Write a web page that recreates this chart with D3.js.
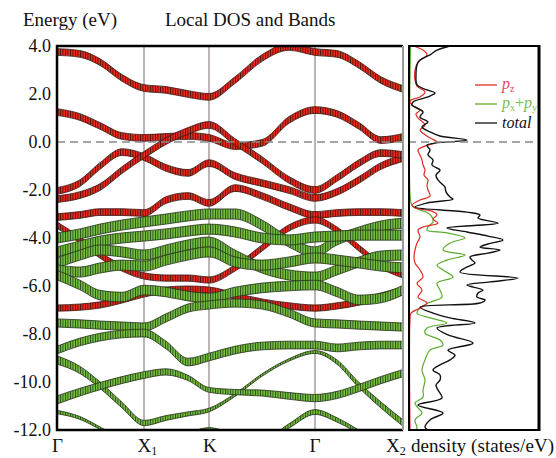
<!DOCTYPE html>
<html>
<head>
<meta charset="utf-8">
<title>Local DOS and Bands</title>
<script src="https://d3js.org/d3.v7.min.js"></script>
<style>
  body { margin: 0; background: #fff; }
  svg text { font-family: "Liberation Serif", "Times New Roman", Times, Tinos, "DejaVu Serif", "Noto Serif", FreeSerif, serif; fill: #111; }
</style>
</head>
<body>
<script>
// k-path (relative path length) and labels
const kTicks = [0, 87, 152, 258, 346];
const kLabels = ["Γ", "X", "K", "Γ", "X"];
const kSubs = ["", "1", "", "", "2"];
const kSamples = [0, 23, 43, 65, 87, 109, 131, 152, 178, 205, 232, 258, 280, 302, 324, 346];
const energyTicks = [4, 2, 0, -2, -4, -6, -8, -10, -12];

// bands with mostly p_z character (eV at kSamples)
const redBands = [
  [3.75, 3.67, 3.33, 2.67, 2.25, 2.17, 2.00, 1.88, 2.58, 3.50, 3.96, 3.75, 3.67, 3.21, 2.58, 2.21],
  [1.25, 1.04, 0.67, 0.25, 0.17, 0.21, 0.25, 0.17, -0.17, -0.04, 0.92, 1.33, 1.17, 0.67, 0.08, 0.21],
  [-2.04, -1.71, -1.00, -0.42, -0.63, -1.08, -1.29, -0.88, -1.42, -1.71, -2.00, -2.33, -2.08, -1.58, -1.00, -0.67],
  [-2.38, -2.21, -1.88, -1.17, -0.54, 0.04, 0.46, 0.71, 0.00, -0.75, -1.58, -2.00, -1.50, -0.88, -0.46, -0.54],
  [-3.13, -3.04, -2.92, -2.92, -2.96, -2.42, -2.25, -2.54, -1.92, -2.25, -2.71, -3.04, -2.96, -2.92, -2.92, -2.96],
  [-3.46, -4.08, -4.71, -5.25, -5.58, -5.67, -5.67, -5.75, -5.25, -4.42, -3.58, -3.25, -3.67, -4.42, -5.13, -5.54],
  [-6.92, -6.88, -6.79, -6.58, -6.33, -6.17, -6.13, -6.17, -6.42, -6.67, -6.83, -6.92, -6.83, -6.67, -6.42, -6.17]
];
const redWeights = [0.28, 0.28, 0.28, 0.28, 0.28, 0.26, 0.26];

// bands with mostly p_x+p_y character
const greenBands = [
  [-4.00, -3.83, -3.63, -3.46, -3.33, -3.21, -3.08, -3.00, -3.00, -3.46, -4.17, -4.58, -4.08, -3.75, -3.50, -3.38],
  [-4.58, -4.33, -4.13, -4.00, -3.92, -3.83, -3.71, -3.63, -3.75, -4.00, -4.08, -3.96, -3.92, -3.88, -3.88, -3.88],
  [-5.04, -4.71, -4.50, -4.58, -4.71, -4.50, -4.29, -4.17, -4.71, -5.25, -5.54, -5.63, -5.33, -5.00, -4.75, -4.71],
  [-5.33, -5.42, -5.25, -5.13, -5.17, -4.92, -4.71, -4.58, -5.00, -5.13, -5.00, -4.83, -4.92, -5.04, -5.17, -5.25],
  [-5.54, -5.96, -6.38, -6.46, -6.17, -6.25, -6.42, -6.50, -6.25, -6.08, -6.00, -5.96, -6.25, -6.58, -6.50, -6.17],
  [-7.54, -7.58, -7.63, -7.67, -7.71, -7.33, -6.92, -6.79, -6.71, -6.79, -7.13, -7.54, -7.58, -7.63, -7.67, -7.71],
  [-8.67, -8.33, -8.13, -8.00, -7.96, -8.46, -9.17, -8.96, -8.67, -8.50, -8.46, -8.46, -8.58, -8.50, -8.46, -8.46],
  [-9.08, -9.50, -10.13, -10.96, -11.71, -11.50, -11.33, -11.17, -10.54, -9.71, -9.08, -8.75, -9.17, -10.13, -10.96, -11.71],
  [-10.75, -10.42, -10.17, -9.92, -9.71, -9.58, -9.83, -10.33, -10.42, -10.46, -10.58, -10.67, -10.54, -10.25, -9.92, -9.63],
  [-11.25, -11.50, -11.92, -12.42, -12.75, -12.50, -12.17, -11.96, -12.25, -12.50, -11.83, -11.25, -11.58, -12.08, -12.63, -12.92]
];
// orbital weight (band thickness, eV); a list gives it per k-sample
const greenWeights = [0.42, 0.42, 0.42, 0.42, 0.40, 0.34, 0.32,
  [0.34, 0.30, 0.27, 0.24, 0.22, 0.20, 0.17, 0.15, 0.12, 0.10, 0.10, 0.12, 0.18, 0.22, 0.25, 0.27],
  [0.34, 0.32, 0.30, 0.29, 0.28, 0.26, 0.22, 0.20, 0.22, 0.25, 0.28, 0.30, 0.30, 0.30, 0.30, 0.30],
  [0.14, 0.12, 0.10, 0.10, 0.10, 0.10, 0.10, 0.12, 0.12, 0.14, 0.18, 0.20, 0.18, 0.15, 0.12, 0.10]];

// density of states (energy, states/eV)
const totalE = [4.00, 3.83, 3.63, 3.42, 3.21, 2.79, 2.38, 2.17, 2.04, 1.88, 1.67, 1.54, 1.25, 1.04, 0.83, 0.63, 0.42, 0.25, 0.08, -0.13, -0.33, -0.54, -0.75, -0.96, -1.17, -1.38, -1.58, -1.75, -1.88, -2.08, -2.29, -2.38, -2.54, -2.71, -2.92, -3.04, -3.17, -3.38, -3.58, -3.75, -3.92, -4.08, -4.25, -4.38, -4.50, -4.63, -4.79, -4.92, -5.04, -5.25, -5.42, -5.67, -5.83, -5.96, -6.17, -6.29, -6.46, -6.58, -6.71, -6.88, -7.13, -7.33, -7.54, -7.75, -8.04, -8.38, -8.67, -8.88, -9.08, -9.29, -9.50, -9.71, -9.92, -10.13, -10.33, -10.67, -10.96, -11.29, -11.58, -11.88, -12.00];
const totalDos = [4.0, 2.7, 2.0, 1.0, 0.7, 0.6, 0.7, 1.7, 2.5, 1.8, 0.3, 0.2, 1.3, 1.0, 1.8, 1.2, 2.0, 3.0, 5.7, 1.7, 2.0, 1.8, 2.3, 2.2, 3.0, 2.6, 2.8, 3.2, 3.5, 3.6, 4.0, 4.3, 1.7, 0.5, 5.7, 7.0, 6.8, 8.8, 3.7, 5.7, 7.8, 9.3, 7.8, 7.0, 9.0, 7.8, 6.0, 6.2, 6.5, 5.5, 5.0, 10.8, 8.0, 5.7, 7.3, 6.8, 6.7, 7.5, 7.0, 1.0, 2.3, 4.0, 6.5, 2.7, 3.8, 6.3, 3.8, 4.5, 4.0, 3.0, 2.3, 3.0, 3.0, 2.6, 2.8, 3.2, 0.8, 3.3, 2.0, 1.5, 1.8];
const pzE = [4.00, 3.83, 3.63, 3.33, 3.00, 2.58, 2.33, 2.08, 1.88, 1.71, 1.54, 1.33, 1.17, 1.00, 0.71, 0.50, 0.33, 0.17, 0.00, -0.17, -0.33, -0.54, -0.75, -0.96, -1.17, -1.38, -1.58, -1.79, -2.00, -2.25, -2.42, -2.63, -2.75, -2.88, -3.04, -3.21, -3.38, -3.54, -3.67, -3.96, -4.21, -4.50, -4.79, -5.04, -5.33, -5.63, -5.88, -6.17, -6.46, -6.71, -6.92, -7.13, -7.42, -12.00];
const pzDos = [0.3, 1.3, 1.7, 0.8, 0.5, 0.5, 0.7, 1.5, 1.0, 0.0, 0.2, 1.0, 0.6, 0.8, 1.5, 1.0, 1.4, 2.0, 2.7, 1.5, 0.8, 1.0, 1.2, 1.3, 1.5, 1.4, 1.8, 1.7, 1.8, 2.0, 1.0, 0.2, 0.5, 2.2, 2.7, 2.3, 2.8, 1.3, 0.8, 1.0, 0.7, 0.5, 0.4, 0.5, 1.0, 1.3, 0.7, 1.2, 0.8, 1.7, 1.0, 0.1, 0.0, 0.0];
const pxyE = [4.00, -2.42, -2.63, -2.83, -2.96, -3.13, -3.33, -3.54, -3.67, -3.79, -4.00, -4.21, -4.50, -4.71, -4.92, -5.13, -5.33, -5.63, -5.88, -6.17, -6.46, -6.71, -6.92, -7.13, -7.33, -7.54, -7.75, -7.96, -8.25, -8.46, -8.67, -9.08, -9.50, -9.92, -10.33, -10.63, -10.88, -11.08, -11.29, -11.58, -11.88, -12.00];
const pxyDos = [0.05, 0.05, 0.2, 1.0, 1.8, 2.2, 2.3, 1.8, 1.7, 3.7, 5.5, 4.0, 3.3, 5.5, 3.7, 2.7, 3.3, 4.3, 2.7, 3.0, 3.2, 1.8, 1.0, 0.7, 2.0, 3.7, 1.7, 1.5, 3.0, 3.3, 2.0, 1.5, 1.2, 1.5, 1.3, 1.3, 0.5, 0.8, 1.2, 0.5, 0.7, 0.6];

const width = 556, height = 458;
const bandLeft = 57, bandRight = 403, dosLeft = 409, dosRight = 539;
const plotTop = 46, plotBottom = 430;

const svg = d3.select("body").append("svg")
  .attr("width", width)
  .attr("height", height);

const x = d3.scaleLinear().domain([0, 346]).range([bandLeft, bandRight]);
const y = d3.scaleLinear().domain([-12, 4]).range([plotBottom, plotTop]);
const xDos = d3.scaleLinear().domain([0, 13]).range([410, 540]);

const defs = svg.append("defs");
defs.append("clipPath").attr("id", "bandClip")
  .append("rect").attr("x", bandLeft).attr("y", plotTop)
  .attr("width", bandRight - bandLeft).attr("height", plotBottom - plotTop);
defs.append("clipPath").attr("id", "dosClip")
  .append("rect").attr("x", dosLeft).attr("y", plotTop)
  .attr("width", dosRight - dosLeft).attr("height", plotBottom - plotTop);

// vertical hatching like the stacked fat-band markers
function hatch(id, fill, dark) {
  const p = defs.append("pattern").attr("id", id)
    .attr("patternUnits", "userSpaceOnUse")
    .attr("width", 2.5).attr("height", 6);
  p.append("rect").attr("width", 2.5).attr("height", 6).attr("fill", fill);
  p.append("rect").attr("width", 0.9).attr("height", 6).attr("fill", dark);
}
hatch("hatchRed", "#ee2a1e", "#4a120c");
hatch("hatchGreen", "#74c040", "#2e4a1a");

// high symmetry lines
svg.append("g").selectAll("line").data(kTicks.slice(1, 4)).join("line")
  .attr("x1", d => x(d)).attr("x2", d => x(d))
  .attr("y1", plotTop).attr("y2", plotBottom)
  .attr("stroke", "#7b6b6b").attr("stroke-width", 1);

const bandG = svg.append("g").attr("clip-path", "url(#bandClip)");

function drawBands(bands, weights, pat, edge) {
  bands.forEach(function (b, j) {
    const wt = weights[j];
    const w = i => Array.isArray(wt) ? wt[i] : wt;
    const area = d3.area()
      .x((d, i) => x(kSamples[i]))
      .y0((d, i) => y(d - w(i) / 2))
      .y1((d, i) => y(d + w(i) / 2))
      .curve(d3.curveMonotoneX);
    bandG.append("path")
      .attr("d", area(b))
      .attr("fill", "url(#" + pat + ")")
      .attr("stroke", edge)
      .attr("stroke-opacity", 0.8)
      .attr("stroke-width", 1);
  });
}
drawBands(redBands, redWeights, "hatchRed", "#3a1a14");
drawBands(greenBands, greenWeights, "hatchGreen", "#25331a");

// DOS curves
const dosG = svg.append("g").attr("clip-path", "url(#dosClip)");
function dosLine(es, vs, color, w) {
  const pts = es.map((e, i) => [vs[i], e]);
  dosG.append("path")
    .attr("d", d3.line().x(d => xDos(d[0])).y(d => y(d[1])).curve(d3.curveCatmullRom)(pts))
    .attr("fill", "none").attr("stroke", color).attr("stroke-width", w);
}
dosLine(pxyE, pxyDos, "#5eab32", 1.2);
dosLine(pzE, pzDos, "#e02a22", 1.2);
dosLine(totalE, totalDos, "#111", 1.4);

// Fermi level
svg.append("line")
  .attr("x1", bandLeft).attr("x2", dosRight)
  .attr("y1", y(0)).attr("y2", y(0))
  .attr("stroke", "#888").attr("stroke-width", 1.6)
  .attr("stroke-dasharray", "8,5");

// frames
svg.append("path")
  .attr("d", `M${bandRight},${plotTop}H${bandLeft}V${plotBottom}H${bandRight}`)
  .attr("fill", "none").attr("stroke", "#000").attr("stroke-width", 2.5);
svg.append("line")
  .attr("x1", bandRight).attr("x2", bandRight).attr("y1", plotTop).attr("y2", plotBottom)
  .attr("stroke", "#9a9a9a").attr("stroke-width", 2);
svg.append("rect")
  .attr("x", dosLeft).attr("y", plotTop)
  .attr("width", dosRight - dosLeft).attr("height", plotBottom - plotTop)
  .attr("fill", "none").attr("stroke", "#000").attr("stroke-width", 2);
svg.append("line")
  .attr("x1", dosRight).attr("x2", dosRight).attr("y1", plotTop - 1).attr("y2", plotBottom + 1)
  .attr("stroke", "#000").attr("stroke-width", 3);

// energy axis
const yAxis = svg.append("g")
  .attr("transform", `translate(${bandLeft},0)`)
  .call(d3.axisLeft(y).tickValues(energyTicks).tickSize(0).tickPadding(6)
    .tickFormat(d => d.toFixed(1)));
yAxis.attr("font-family", null).attr("font-size", 18);
yAxis.select(".domain").remove();
yAxis.selectAll("text").attr("fill", "#111");

// k labels
const kl = svg.append("g");
const kShift = [-5, -6.5, -6, -5.5, 0];
kTicks.forEach(function (k, i) {
  const t = kl.append("text")
    .attr("x", i == 4 ? 386 : x(k) + kShift[i])
    .attr("y", 452)
    .attr("font-size", 19);
  t.append("tspan").text(kLabels[i]);
  if (kSubs[i]) t.append("tspan").attr("dy", 3).attr("font-size", 12).text(kSubs[i]);
});
svg.append("text").attr("x", 411).attr("y", 452)
  .attr("font-size", 19).attr("textLength", 143).text("density (states/eV)");

// titles
svg.append("text").attr("x", 23).attr("y", 26).attr("font-size", 19).text("Energy (eV)");
svg.append("text").attr("x", 165).attr("y", 26).attr("font-size", 19).text("Local DOS and Bands");

// legend
const legend = [
  { color: "#e02a22", text: "#e0455a", y: 85 },
  { color: "#5eab32", text: "#79c04a", y: 104 },
  { color: "#111", text: "#111", y: 123 }
];
legend.forEach(function (l) {
  svg.append("line").attr("x1", 475).attr("x2", 497)
    .attr("y1", l.y).attr("y2", l.y)
    .attr("stroke", l.color).attr("stroke-width", 1.3);
});
const t1 = svg.append("text").attr("x", 502).attr("y", 89).attr("font-size", 16);
t1.append("tspan").attr("font-style", "italic").style("fill", legend[0].text).text("p");
t1.append("tspan").attr("dy", 3).attr("font-size", 10).style("fill", legend[0].text).text("z");
const t2 = svg.append("text").attr("x", 502).attr("y", 108).attr("font-size", 16);
t2.append("tspan").attr("font-style", "italic").style("fill", legend[1].text).text("p");
t2.append("tspan").attr("dy", 3).attr("font-size", 10).style("fill", legend[1].text).text("x");
t2.append("tspan").attr("dy", -3).style("fill", legend[1].text).text("+");
t2.append("tspan").attr("font-style", "italic").style("fill", legend[1].text).text("p");
t2.append("tspan").attr("dy", 3).attr("font-size", 10).style("fill", legend[1].text).text("y");
svg.append("text").attr("x", 502).attr("y", 128).attr("font-size", 16)
  .attr("font-style", "italic").text("total");
</script>
</body>
</html>
